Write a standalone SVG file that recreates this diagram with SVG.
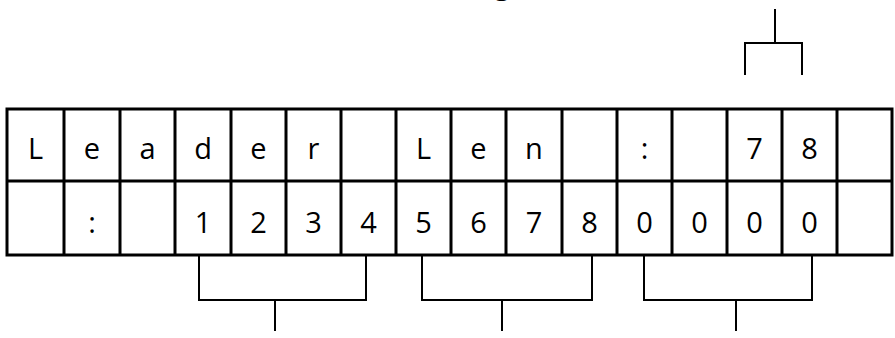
<svg xmlns="http://www.w3.org/2000/svg" width="895" height="338" viewBox="0 0 895 338">
<style>
.grid{stroke:#000;stroke-width:3;fill:none}
.br{stroke:#000;stroke-width:2;fill:none}
text{font-family:"Open Sans","Noto Sans",sans-serif;font-size:29px;fill:#000;text-anchor:middle}
</style>
<rect width="895" height="338" fill="#fff"/>
<text x="502" y="-6">g</text>
<g id="table">
<rect class="grid" x="7" y="109" width="885" height="146"/>
<path class="grid" d="M7 181H892 M64 109V255 M120 109V255 M175 109V255 M231 109V255 M286 109V255 M341 109V255 M396 109V255 M451 109V255 M506 109V255 M562 109V255 M617 109V255 M672 109V255 M727 109V255 M782 109V255 M837 109V255"/>
<g id="row1">
<text x="35.5" y="159">L</text>
<text x="92" y="159">e</text>
<text x="147.5" y="159">a</text>
<text x="203" y="159">d</text>
<text x="258.5" y="159">e</text>
<text x="313.5" y="159">r</text>
<text x="423.5" y="159">L</text>
<text x="478.5" y="159">e</text>
<text x="534" y="159">n</text>
<text x="644.5" y="159">:</text>
<text x="754.5" y="159">7</text>
<text x="809.5" y="159">8</text>
</g>
<g id="row2">
<text x="92" y="233">:</text>
<text x="203" y="233">1</text>
<text x="258.5" y="233">2</text>
<text x="313.5" y="233">3</text>
<text x="368.5" y="233">4</text>
<text x="423.5" y="233">5</text>
<text x="478.5" y="233">6</text>
<text x="534" y="233">7</text>
<text x="589.5" y="233">8</text>
<text x="644.5" y="233">0</text>
<text x="699.5" y="233">0</text>
<text x="754.5" y="233">0</text>
<text x="809.5" y="233">0</text>
</g>
</g>
<g id="connectors">
<path class="br" d="M775 9V43 M745 75V43H802V75"/>
<path class="br" d="M199 256V300H366V256 M275 300V331"/>
<path class="br" d="M422 256V300H592V256 M502 300V331"/>
<path class="br" d="M644 256V300H812V256 M736 300V331"/>
</g>
</svg>
